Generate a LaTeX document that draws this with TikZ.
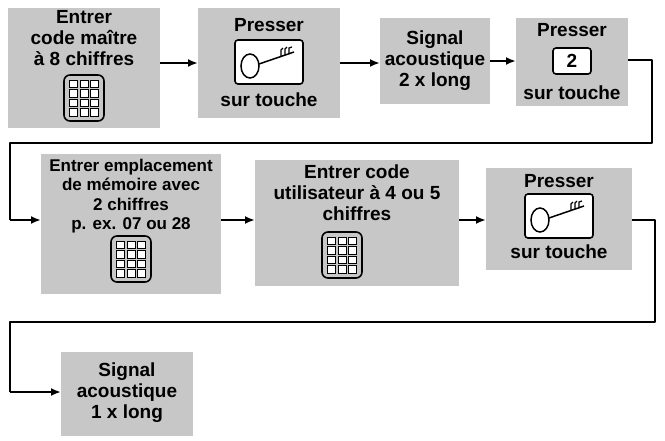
\documentclass[tikz,border=0pt]{standalone}
\usepackage{fontspec}
\setmainfont{Liberation Sans}
\usetikzlibrary{arrows.meta}
\begin{document}
\begin{tikzpicture}[x=1pt,y=-1pt,
  box/.style={fill=black!22,draw=none},
  txt/.style={font=\bfseries\fontsize{19}{21}\selectfont,align=center,inner sep=0},
  arr/.style={line width=2.2pt,-{Latex[length=10pt,width=8pt]}},
  ln/.style={line width=1.8pt}]
\useasboundingbox (0,0) rectangle (665,440);
\tikzset{
 pad/.pic={\draw[line width=1.6pt,fill=black!22,rounded corners=6pt] (-20,-23) rectangle (20,23);
   \foreach \i in {-1,0,1}\foreach \j in {0,1,2,3}
     \draw[fill=white,line width=1pt] (\i*10.5-4,-18+\j*9.5) rectangle ++(8,7.5);},
 key/.pic={\draw[fill=white,line width=1.6pt,rounded corners=3pt] (-34,-22) rectangle (34,22);
   \draw[line width=1.5pt] (-19,4) ellipse (9 and 12);
   \draw[line width=1.5pt] (-10,2) -- (25,-10);
   \draw[line width=1.2pt] (12,-6)--(12,-12)--(14,-14) (16,-7)--(16,-13)--(18,-15) (20,-8)--(20,-14)--(23,-15);}
}
% row 1
\node[box,minimum width=152,minimum height=120,anchor=north west] (b1) at (8,8) {};
\node[txt] (t1) at (84,38) {Entrer\\code maître\\à 8 chiffres};
\pic at (84,98) {pad};
\node[box,minimum width=142,minimum height=110,anchor=north west] (b2) at (198,8) {};
\node[txt] (t2) at (269,25) {Presser};
\pic at (269,62) {key};
\node[txt] (t2b) at (269,100) {sur touche};
\node[box,minimum width=110,minimum height=86,anchor=north west] (b3) at (380,18) {};
\node[txt] (t3) at (435,61) {Signal\\acoustique\\2 x long};
\node[box,minimum width=112,minimum height=88,anchor=north west] (b4) at (516,18) {};
\node[txt] (t4) at (572,30) {Presser};
\node[draw,fill=white,line width=1.6pt,rounded corners=3pt,minimum width=38,minimum height=26,txt] (k2) at (572,61) {2};
\node[txt] (t4b) at (572,93) {sur touche};
% row 2
\node[box,minimum width=180,minimum height=140,anchor=north west] (b5) at (41,154) {};
\node[txt,font=\bfseries\fontsize{17}{19.5}\selectfont] (t5) at (131,196) {Entrer emplacement\\de mémoire avec\\2 chiffres\\p. ex. 07 ou 28};
\pic at (131,259) {pad};
\node[box,minimum width=204,minimum height=126,anchor=north west] (b6) at (255,160) {};
\node[txt] (t6) at (357,193) {Entrer code\\utilisateur à 4 ou 5\\chiffres};
\pic at (342,255) {pad};
\node[box,minimum width=146,minimum height=102,anchor=north west] (b7) at (486,168) {};
\node[txt] (t7) at (559,181) {Presser};
\pic at (559,216) {key};
\node[txt] (t7b) at (559,252) {sur touche};
% row 3
\node[box,minimum width=132,minimum height=84,anchor=north west] (b8) at (61,352) {};
\node[txt] (t8) at (127,393) {Signal\\acoustique\\1 x long};
% connectors
\draw[arr] (b1.east|-0,63) -- (b2.west|-0,63);
\draw[arr] (b2.east|-0,63) -- (b3.west|-0,63);
\draw[arr] (b3.east|-0,61) -- (b4.west|-0,61);
\coordinate (c1) at (652,60); \coordinate (c2) at (652,143);
\coordinate (c3) at (10,143); \coordinate (c4) at (10,220);
\draw[ln,line join=round] (b4.east|-c1) -- (c1) -- (c2) -- (c3) -- (c4);
\draw[arr] (c4) -- (b5.west|-c4);
\draw[arr] (b5.east|-0,220) -- (b6.west|-0,220);
\draw[arr] (b6.east|-0,220) -- (b7.west|-0,220);
\coordinate (d1) at (655,220); \coordinate (d2) at (655,322);
\coordinate (d3) at (10,322); \coordinate (d4) at (10,392);
\draw[ln,line join=round] (b7.east|-d1) -- (d1) -- (d2) -- (d3) -- (d4);
\draw[arr] (d4) -- (b8.west|-d4);
\end{tikzpicture}
\end{document}
